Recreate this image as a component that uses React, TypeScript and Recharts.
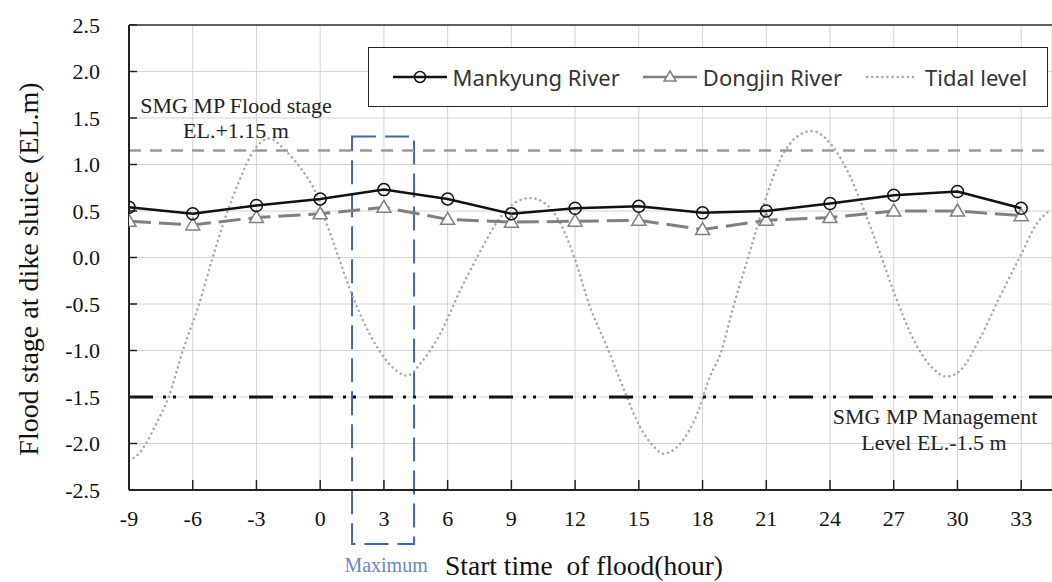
import React from 'react';
import {
  LineChart,
  Line,
  XAxis,
  YAxis,
  CartesianGrid,
  ReferenceLine,
  ReferenceArea,
  Legend,
} from 'recharts';

// start time of flood (hour) and stage at the dike sluice (EL.m)
const hours = [-9, -6, -3, 0, 3, 6, 9, 12, 15, 18, 21, 24, 27, 30, 33];
const mankyungStage = [0.54, 0.47, 0.56, 0.63, 0.73, 0.63, 0.47, 0.53, 0.55, 0.48, 0.5, 0.58, 0.67, 0.71, 0.53];
const dongjinStage = [0.39, 0.35, 0.43, 0.47, 0.54, 0.41, 0.38, 0.39, 0.4, 0.3, 0.4, 0.43, 0.5, 0.5, 0.45];

// tidal level
const tidalHours = [
  -9, -8.5, -8.2, -7.7, -7.15, -6.45, -5.7, -5.1, -4.45, -3.8, -3.1, -2.4, -1.6, -0.85, -0.2,
  0.25, 0.75, 1.35, 2, 2.75, 3.55, 4.1, 4.75, 5.65, 6.6, 7.5, 8.5, 9.25, 9.9, 10.7, 11.3,
  11.95, 12.7, 13.5, 14.3, 15.05, 15.7, 16.15, 16.95, 17.75, 18.35, 18.85, 19.45, 20.25,
  20.9, 21.65, 22.45, 23.15, 24, 24.8, 25.6, 26.35, 27.15, 27.95, 28.75, 29.5, 30.15,
  31.1, 32, 32.95, 33.75, 34.4,
];
const tidalLevels = [
  -2.18, -2.1, -2.0, -1.78, -1.51, -0.99, -0.5, -0.03, 0.44, 0.83, 1.16, 1.28, 1.14, 0.94, 0.69,
  0.4, 0.08, -0.31, -0.67, -0.99, -1.21, -1.27, -1.13, -0.82, -0.35, 0.05, 0.44, 0.6, 0.64, 0.56, 0.37,
  0.01, -0.53, -0.96, -1.42, -1.82, -2.03, -2.11, -2.0, -1.68, -1.28, -1.03, -0.53, 0.08,
  0.58, 1.05, 1.3, 1.36, 1.23, 0.94, 0.51, 0.05, -0.46, -0.89, -1.17, -1.28, -1.21,
  -0.85, -0.42, 0.01, 0.37, 0.51,
];

const yTicks = [-2.5, -2, -1.5, -1, -0.5, 0, 0.5, 1, 1.5, 2, 2.5];
const xDomain = [-9, 34.45];

const floodStage = 1.15;
const managementLevel = -1.5;
const maximumHours = [1.5, 4.42];
const maximumLevels = [-3.08, 1.3];

const riverData = hours.map((h, i) => ({ hour: h, mankyung: mankyungStage[i], dongjin: dongjinStage[i] }));
const tidalData = tidalHours.map((h, i) => ({ hour: h, tidal: tidalLevels[i] }));

const serif = '"Liberation Serif", "Times New Roman", serif';
const sans = '"Noto Sans", "Open Sans", sans-serif';

const legendOrder = ['Mankyung River', 'Dongjin River', 'Tidal level'];

function LegendSample({ name }: { name: string }) {
  if (name === 'Mankyung River') {
    return (
      <svg width={54} height={16}>
        <line x1={0} y1={8} x2={54} y2={8} stroke="#111" strokeWidth={2.5} />
        <circle cx={27} cy={8} r={5.5} fill="none" stroke="#111" strokeWidth={1.5} />
      </svg>
    );
  }
  if (name === 'Dongjin River') {
    return (
      <svg width={54} height={16}>
        <line x1={0} y1={8} x2={54} y2={8} stroke="#808080" strokeWidth={2.5} />
        <path d="M27,2 L33,12 L21,12 Z" fill="#fff" stroke="#808080" strokeWidth={1.5} />
      </svg>
    );
  }
  return (
    <svg width={54} height={16}>
      <line x1={2} y1={8} x2={52} y2={8} stroke="#a8a8a8" strokeWidth={2.5} strokeDasharray="0.1 5" strokeLinecap="round" />
    </svg>
  );
}

function renderLegend(props: any) {
  const payload = (props.payload || []).slice().sort(
    (a: any, b: any) => legendOrder.indexOf(a.value) - legendOrder.indexOf(b.value)
  );
  return (
    <div
      style={{
        width: 680,
        height: 60,
        boxSizing: 'border-box',
        border: '1.5px solid #222',
        background: '#fff',
        display: 'flex',
        alignItems: 'center',
        paddingLeft: 23.5,
        fontFamily: sans,
        fontSize: 22,
        color: '#333',
        whiteSpace: 'nowrap',
      }}
    >
      {payload.map((entry: any) => (
        <div key={entry.value} style={{ display: 'flex', alignItems: 'center', marginRight: 23 }}>
          <LegendSample name={entry.value} />
          <span style={{ marginLeft: 6 }}>{entry.value}</span>
        </div>
      ))}
    </div>
  );
}

function TriangleDot(props: any) {
  const { cx, cy } = props;
  if (cx == null || cy == null) return null;
  return (
    <path
      d={`M${cx},${cy - 7} L${cx + 7},${cy + 5} L${cx - 7},${cy + 5} Z`}
      fill="#fff"
      stroke="#808080"
      strokeWidth={1.5}
    />
  );
}

const annotationStyle = { fontFamily: serif, fontSize: 22, fill: '#222' };

export default function App() {
  return (
    <div style={{ position: 'absolute', left: 0, top: 0, width: 1052, height: 582, background: '#fff' }}>
      <LineChart width={1052} height={582} margin={{ top: 25, right: 0, bottom: 0, left: 0 }}>
        <CartesianGrid stroke="#d4d4d4" strokeWidth={1} />
        <XAxis
          type="number"
          dataKey="hour"
          domain={xDomain}
          ticks={hours}
          interval={0}
          allowDataOverflow
          height={92}
          tickSize={-10}
          tickMargin={30}
          axisLine={{ stroke: '#222', strokeWidth: 2 }}
          tickLine={{ stroke: '#222', strokeWidth: 1.5 }}
          tick={{ fill: '#111', fontSize: 22, fontFamily: serif }}
          label={{
            content: (p: any) => {
              const vb = p.viewBox || { x: 129, y: 490 };
              return (
                <g>
                  <text
                    x={vb.x + 316}
                    y={vb.y + 85}
                    fontFamily={serif}
                    fontSize={27.5}
                    fill="#111"
                    style={{ whiteSpace: 'pre' }}
                  >
                    {'Start time\u00a0 of flood(hour)'}
                  </text>
                </g>
              );
            },
          }}
        />
        <YAxis
          type="number"
          domain={[-2.5, 2.5]}
          ticks={yTicks}
          interval={0}
          width={129}
          tickSize={-8}
          tickMargin={37}
          tickFormatter={(v: number) => v.toFixed(1)}
          axisLine={{ stroke: '#222', strokeWidth: 2 }}
          tickLine={{ stroke: '#222', strokeWidth: 1.5 }}
          tick={{ fill: '#111', fontSize: 22, fontFamily: serif }}
          label={{
            content: () => (
              <text
                x={28}
                y={269}
                transform="rotate(-90 28 269)"
                textAnchor="middle"
                dominantBaseline="central"
                fontFamily={serif}
                fontSize={28}
                fill="#111"
              >
                Flood stage at dike sluice (EL.m)
              </text>
            ),
          }}
        />
        <ReferenceLine y={2.5} stroke="#333" strokeWidth={1.5} />
        <Line
          data={tidalData}
          dataKey="tidal"
          name="Tidal level"
          type="monotone"
          stroke="#a8a8a8"
          strokeWidth={2.5}
          strokeDasharray="0.1 5"
          strokeLinecap="round"
          dot={false}
          activeDot={false}
          isAnimationActive={false}
        />
        <ReferenceLine
          y={floodStage}
          stroke="#9a9a9a"
          strokeWidth={2.5}
          strokeDasharray="12 9"
          label={(p: any) => {
            const vb = p.viewBox;
            return (
              <g>
                <text x={vb.x + 107} y={vb.y - 38} textAnchor="middle" {...annotationStyle}>
                  SMG MP Flood stage
                </text>
                <text x={vb.x + 107} y={vb.y - 13} textAnchor="middle" {...annotationStyle}>
                  EL.+1.15 m
                </text>
              </g>
            );
          }}
        />
        <ReferenceLine
          y={managementLevel}
          stroke="#111"
          strokeWidth={3}
          strokeDasharray="24 10 3 7 3 13"
          label={(p: any) => {
            const vb = p.viewBox;
            return (
              <g>
                <text x={vb.x + 806} y={vb.y + 27} textAnchor="middle" {...annotationStyle}>
                  SMG MP Management
                </text>
                <text x={vb.x + 805} y={vb.y + 53} textAnchor="middle" {...annotationStyle}>
                  Level EL.-1.5 m
                </text>
              </g>
            );
          }}
        />
        <ReferenceArea
          x1={maximumHours[0]}
          x2={maximumHours[1]}
          y1={maximumLevels[0]}
          y2={maximumLevels[1]}
          ifOverflow="visible"
          fill="none"
          stroke="#4563b5"
          strokeWidth={2}
          strokeDasharray="24 9"
          label={(p: any) => {
            const vb = p.viewBox;
            return (
              <text
                x={vb.x + vb.width / 2 + 3}
                y={vb.y + vb.height + 28}
                textAnchor="middle"
                fontFamily={serif}
                fontSize={20}
                fill="#6a86c8"
              >
                Maximum
              </text>
            );
          }}
        />
        <Line
          data={riverData}
          dataKey="dongjin"
          name="Dongjin River"
          type="linear"
          stroke="#808080"
          strokeWidth={3}
          strokeDasharray="22 8"
          dot={<TriangleDot />}
          activeDot={false}
          isAnimationActive={false}
        />
        <Line
          data={riverData}
          dataKey="mankyung"
          name="Mankyung River"
          type="linear"
          stroke="#111"
          strokeWidth={2.5}
          dot={{ r: 6, fill: 'none', stroke: '#111', strokeWidth: 1.5 }}
          activeDot={false}
          isAnimationActive={false}
        />
        <Legend
          layout="vertical"
          align="center"
          verticalAlign="middle"
          content={renderLegend}
          wrapperStyle={{ left: 368, top: 47, width: 680 }}
        />
      </LineChart>
    </div>
  );
}
